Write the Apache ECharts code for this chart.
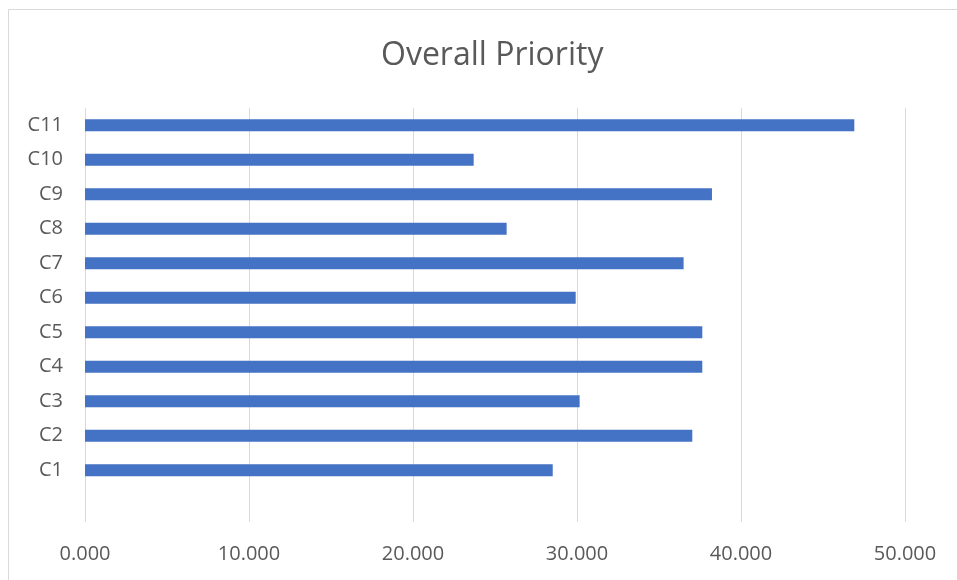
<!DOCTYPE html>
<html><head><meta charset="utf-8">
<script src="https://cdn.jsdelivr.net/npm/echarts@6/dist/echarts.min.js"></script>
<style>html,body{margin:0;padding:0;background:#fff}#c{width:957px;height:580px}</style>
</head><body><div id="c"></div>
<script>
const categories = ['', 'C1', 'C2', 'C3', 'C4', 'C5', 'C6', 'C7', 'C8', 'C9', 'C10', 'C11'];
const values = [null, 28.52, 37.03, 30.16, 37.64, 37.64, 29.92, 36.50, 25.71, 38.23, 23.70, 46.91];
const chart = echarts.init(document.getElementById('c'), null, {renderer: 'canvas'});
const FONT = '"Open Sans", sans-serif';
chart.setOption({
  animation: false,
  backgroundColor: '#ffffff',
  graphic: [{type: 'rect', shape: {x: 8.5, y: 9.5, width: 980, height: 600}, style: {fill: null, stroke: '#d9d9d9', lineWidth: 1}, silent: true}],
  title: {text: 'Overall Priority', left: 376, top: 35, textStyle: {fontFamily: FONT, fontSize: 32, fontWeight: 'normal', color: '#595959'}},
  grid: {left: 85, right: 52, top: 108, bottom: 58, containLabel: false},
  xAxis: {type: 'value', min: 0, max: 50, interval: 10,
    axisLine: {show: false}, axisTick: {show: false},
    splitLine: {show: true, lineStyle: {color: '#d9d9d9', width: 1}},
    axisLabel: {formatter: v => v.toFixed(3), color: '#595959', fontFamily: FONT, fontSize: 20, margin: 22}},
  yAxis: {type: 'category', data: categories,
    axisLine: {show: false}, axisTick: {show: false},
    axisLabel: {color: '#595959', fontFamily: FONT, fontSize: 20, margin: 22}},
  series: [{type: 'bar', data: values, barWidth: 12, itemStyle: {color: '#4472c4'}}]
});
</script></body></html>
